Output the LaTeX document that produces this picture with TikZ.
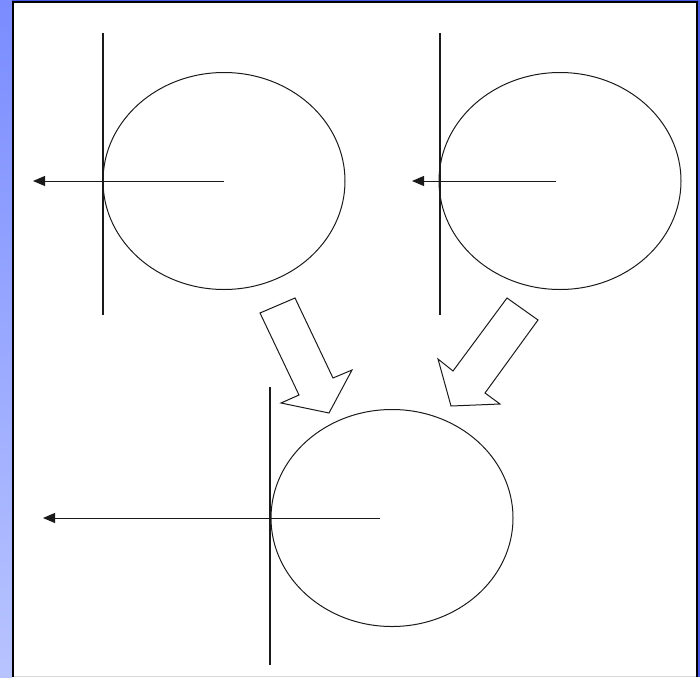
\documentclass[tikz,border=0pt]{standalone}
\usetikzlibrary{shapes.geometric, arrows.meta}

\begin{document}
\begin{tikzpicture}[x=1pt, y=-1pt]
    % Define colours
    \definecolor{stripTop}{RGB}{122,140,255}
    \definecolor{stripBottom}{RGB}{184,196,255}
    \definecolor{edgeBlue}{RGB}{70,90,230}
    \definecolor{lineColour}{HTML}{1A1A1A}

    % Define styles
    \tikzset{
      orbit/.style={ellipse, draw=lineColour, line width=1pt, minimum width=242pt, minimum height=217pt, inner sep=0pt},
      axis/.style={draw=lineColour, line width=1.2pt},
      ray/.style={draw=lineColour, line width=1pt, -{Triangle[length=12pt,width=10pt]}},
      blockarrow/.style={draw=lineColour, fill=white, line width=1pt, line join=miter}
    }

    % Fix the page size
    \useasboundingbox (0,0) rectangle (700,677);

  % Draw the frame
  \shade[top color=stripTop, bottom color=stripBottom] (0,0) rectangle (12,677);
  \fill[edgeBlue] (12,0) rectangle (700,1);
  \fill[edgeBlue] (698,0) rectangle (700,677);
  \draw[black, line width=2pt] (12.5,677) -- (12.5,2) -- (697,2) -- (697,677);
  \draw[gray!30, line width=0.8pt] (14,676) -- (696,676);

  % Upper left circle
  \node[orbit] (left) at (224,181) {};
  \coordinate (leftTop) at (103,33);
  \coordinate (leftBottom) at (103,315);
  \coordinate (leftEnd) at (33,181);
  \draw[axis] (leftTop) -- (leftBottom);
  \draw[ray] (left.center) -- (leftEnd);

  % Upper right circle
  \node[orbit] (right) at (560,181) {};
  \coordinate (rightTop) at (440,33);
  \coordinate (rightBottom) at (440,315);
  \coordinate (rightStart) at (556,181);
  \coordinate (rightEnd) at (412,181);
  \draw[axis] (rightTop) -- (rightBottom);
  \draw[ray] (rightStart) -- (rightEnd);

  % Lower circle
  \node[orbit] (sum) at (392,518) {};
  \coordinate (sumTop) at (270,387);
  \coordinate (sumBottom) at (270,665);
  \coordinate (sumStart) at (380,518);
  \coordinate (sumEnd) at (43,518);
  \draw[axis] (sumTop) -- (sumBottom);
  \draw[ray] (sumStart) -- (sumEnd);

  % Block arrows
  \draw[blockarrow] (260,313) -- (295,298) -- (333,378) -- (352,370)
    -- (329,413) -- (281,403) -- (299,395) -- cycle;
  \draw[blockarrow] (507,298) -- (538,320) -- (485,393) -- (500,404)
    -- (451,406) -- (438,359) -- (453,371) -- cycle;

\end{tikzpicture}
\end{document}
